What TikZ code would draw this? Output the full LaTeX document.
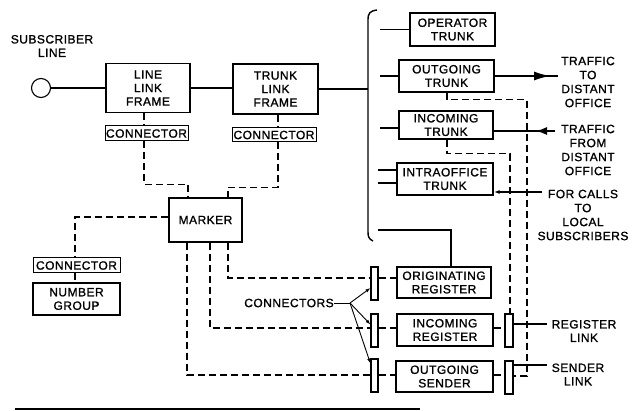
\documentclass[tikz,border=0pt]{standalone}
\usepackage{fontspec}
\setmainfont{Liberation Sans}[LetterSpace=4,FakeBold=1.2]
\usetikzlibrary{arrows.meta}
\begin{document}
\begin{tikzpicture}[x=1pt,y=-1pt,
  font=\fontsize{12}{13.5}\selectfont, line width=1.3pt,
  box/.style={draw, line width=1.4pt, inner sep=0pt, align=center},
  tag/.style={draw, line width=1pt, inner sep=0pt, align=center},
  bar/.style={draw, line width=1.1pt, inner sep=0pt, minimum width=7pt, minimum height=33pt},
  dsh/.style={dash pattern=on 7pt off 4pt, line width=1.25pt},
  lbl/.style={align=center, inner sep=0pt},
  lbl4/.style={align=center, inner sep=0pt, font=\fontsize{12}{14}\selectfont},
  thin/.style={line width=0.9pt}]
\useasboundingbox (0,0) rectangle (634,411);

% left part
\node[draw, circle, minimum size=19pt, inner sep=0pt, line width=1.1pt] (sub) at (41,88) {};
\node[lbl] (subl) at (52,46) {SUBSCRIBER\\LINE};
\node[box, minimum width=84pt, minimum height=49pt] (llf) at (148,88) {LINE\\LINK\\FRAME};
\node[box, minimum width=85pt, minimum height=50pt] (tlf) at (275.5,89) {TRUNK\\LINK\\FRAME};
\node[tag, minimum width=83pt, minimum height=15pt] (c1) at (146.5,133.5) {CONNECTOR};
\node[tag, minimum width=84pt, minimum height=14pt] (c2) at (274,135) {CONNECTOR};
\node[box, minimum width=73pt, minimum height=44pt] (mk) at (205.5,220) {MARKER};
\node[tag, minimum width=87pt, minimum height=15pt] (c3) at (76.5,265.5) {CONNECTOR};
\node[box, line width=1.1pt, minimum width=87pt, minimum height=32pt] (ng) at (76.5,299) {NUMBER\\GROUP};

% trunks
\node[box, minimum width=85pt, minimum height=33pt] (opt) at (452.5,29.5) {OPERATOR\\TRUNK};
\node[box, minimum width=95pt, minimum height=32pt] (ogt) at (446.5,76) {OUTGOING\\TRUNK};
\node[box, minimum width=94pt, minimum height=28pt] (ict) at (446,125) {INCOMING\\TRUNK};
\node[box, minimum width=96pt, minimum height=32pt] (iot) at (445,179) {INTRAOFFICE\\TRUNK};

% registers and bars
\node[bar] (b1) at (374.5,283.5) {};
\node[bar] (b2) at (374.5,330.5) {};
\node[bar] (b3) at (374.5,375.5) {};
\node[bar, minimum width=8pt] (b4) at (509,330.5) {};
\node[bar, minimum width=8pt] (b5) at (509,377.5) {};
\node[box, minimum width=94pt, minimum height=31pt] (or) at (444,282.5) {ORIGINATING\\REGISTER};
\node[box, minimum width=96pt, minimum height=32pt] (ir) at (445,330) {INCOMING\\REGISTER};
\node[box, minimum width=97pt, minimum height=31pt] (os) at (444.5,376.5) {OUTGOING\\SENDER};

% labels
\node[lbl] (cl) at (289,303) {CONNECTORS};
\node[lbl4] (t1) at (588,82) {TRAFFIC\\TO\\DISTANT\\OFFICE};
\node[lbl4] (t2) at (588,150) {TRAFFIC\\FROM\\DISTANT\\OFFICE};
\node[lbl4] (t3) at (583,215) {FOR CALLS\\TO\\LOCAL\\SUBSCRIBERS};
\node[lbl] (rl) at (584,331) {REGISTER\\LINK};
\node[lbl] (sl) at (578,374.5) {SENDER\\LINK};

% main solid path
\draw (sub.east) -- (sub.east -| llf.west);
\draw (llf.east) -- (llf.east -| tlf.west);
\coordinate (bj) at (368,89);
\draw (tlf.east) -- (bj);
\draw[line width=1.4pt] (377,10) .. controls (370,11) and (368,13) .. (368,20) -- (368,232) .. controls (368,237) and (369,239) .. (373,241);

% stubs from brace
\coordinate (s1) at (380,29.5);
\coordinate (s2) at (380,76);
\coordinate (s3) at (380,128);
\coordinate (s4) at (378,170);
\coordinate (s5) at (378,183);
\coordinate (s6) at (378,230);
\draw (s1) -- (opt.west);
\draw (s2) -- (ogt.west);
\draw (s3) -- (s3 -| ict.west);
\draw (s4) -- (s4 -| iot.west);
\draw (s5) -- (s5 -| iot.west);
\draw (s6) -| ([xshift=7pt]or.north);

% traffic arrows
\coordinate (oa) at (550,76);
\coordinate (oe) at (558,76);
\draw (ogt.east) -- (oe);
\draw[-{Latex[length=16pt,width=9pt]}] (ogt.east) -- (oa);
\coordinate (ia) at (536,131);
\coordinate (ie) at (555,131);
\draw (ie) -- (ie -| ict.east);
\draw[-{Latex[length=11pt,width=8pt]}] (ie) -- (ia);
\coordinate (ioe) at (542,192);
\draw[-{Latex[length=6pt,width=4pt]}] (ioe) -- (ioe -| iot.east);

% dashed control paths
\draw[dsh] ([xshift=-4pt]llf.south) -- ([xshift=-4pt]llf.south |- c1.north);
\draw[dsh] ([xshift=-2.5pt]c1.south) -- ++(0,43) -| ([xshift=-17.5pt]mk.north);
\draw[dsh] ([xshift=2.5pt]tlf.south) -- ([xshift=2.5pt]tlf.south |- c2.north);
\draw[dsh] ([xshift=4pt]c2.south) -- ++(0,45) -| ([xshift=22.5pt]mk.north);
\draw[dsh] ([yshift=3pt]mk.west) -| ([xshift=-1.5pt]c3.north);
\draw[dsh] ([xshift=-1.5pt]c3.south) -- ([xshift=-1.5pt]ng.north);

\draw[dsh] ([xshift=22.5pt]mk.south) |- ([yshift=5.5pt]b1.west);
\draw[dsh] ([xshift=4.5pt]mk.south) |- ([yshift=2.5pt]b2.west);
\draw[dsh] ([xshift=-18.5pt]mk.south) |- ([yshift=0.5pt]b3.west);
\draw[dsh] ([yshift=5.5pt]b1.east) -- ([yshift=5.5pt]b1.east -| or.west);
\draw[dsh] ([yshift=2.5pt]b2.east) -- ([yshift=2.5pt]b2.east -| ir.west);
\draw[dsh] ([yshift=0.5pt]b3.east) -- ([yshift=0.5pt]b3.east -| os.west);
\draw[dsh] ([yshift=2pt]ir.east) -- ([yshift=2pt]ir.east -| b4.west);
\draw[dsh] ([yshift=1.5pt]os.east) -- ([yshift=1.5pt]os.east -| b5.west);

\coordinate (k1) at (527,376);
\draw[dsh] ([xshift=0.5pt]ogt.south) -- ++(0,7) -| (k1) -- (k1 -| b5.east);
\draw[dsh] ([xshift=1pt]ict.south) -- ++(0,14) -| ([xshift=1pt]b4.north);

% link lines
\coordinate (rle) at (547,324);
\coordinate (sle) at (547,365);
\draw (b4.east |- rle) -- (rle);
\draw (b5.east |- sle) -- (sle);

% connectors pointer
\coordinate (cj) at (350,303);
\draw[thin] (cl.east) -- (cj);
\draw[thin, -{Latex[length=5pt,width=3.5pt]}] (cj) -- ([yshift=-4.5pt]b1.west);
\draw[thin, -{Latex[length=5pt,width=3.5pt]}] (cj) -- ([yshift=6pt]b2.west);
\draw[thin, -{Latex[length=5pt,width=3.5pt]}] (cj) -- ([yshift=12pt]b3.west);

% bottom rule
\coordinate (r1) at (15,409);
\coordinate (r2) at (420,409);
\draw[line width=2.5pt] (r1) -- (r2);
\end{tikzpicture}
\end{document}
